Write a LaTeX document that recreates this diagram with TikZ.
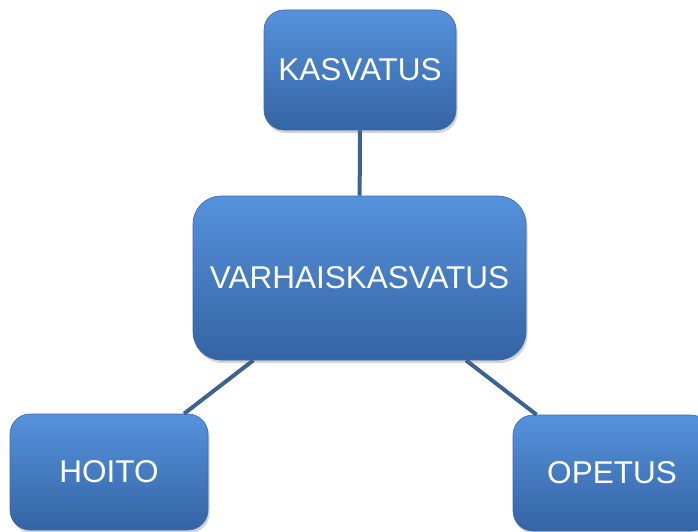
\documentclass[tikz,border=0pt]{standalone}
\usepackage{fontspec}
\setmainfont{Liberation Sans}
\usetikzlibrary{shadows}
\definecolor{boxtop}{RGB}{86,146,220}
\definecolor{boxmid}{RGB}{64,126,202}
\definecolor{boxbot}{RGB}{52,100,164}
\definecolor{boxedge}{RGB}{58,106,170}
\definecolor{linkcol}{RGB}{60,98,146}
\tikzset{
  conceptbox/.style={rectangle, rounded corners=#1, draw=boxedge, line width=0.6pt,
    top color=boxtop, middle color=boxmid, bottom color=boxbot, inner sep=0pt,
    text=white, font=\fontsize{31.5}{38}\selectfont,
    drop shadow={opacity=0.35, shadow xshift=1.5pt, shadow yshift=-3pt}},
  conceptbox/.default=20pt,
  link/.style={draw=linkcol, line width=4pt}
}
\begin{document}
\begin{tikzpicture}[x=1pt,y=-1pt]
\useasboundingbox (0,0) rectangle (698,532);
\clip (0,0) rectangle (698,532);
\node[conceptbox=20pt, minimum width=192pt, minimum height=120pt] (kas) at (360,70) {KASVATUS};
\node[conceptbox=28pt, minimum width=333pt, minimum height=164pt] (var) at (359.5,278) {VARHAISKASVATUS};
\node[conceptbox=20pt, minimum width=198pt, minimum height=116pt] (hoi) at (109,472) {HOITO};
\node[conceptbox=20pt, minimum width=198pt, minimum height=116pt] (ope) at (612,473) {OPETUS};
\draw[link] (kas) -- (var);
\draw[link] (var) -- (hoi);
\draw[link] (var) -- (ope);
\end{tikzpicture}
\end{document}
